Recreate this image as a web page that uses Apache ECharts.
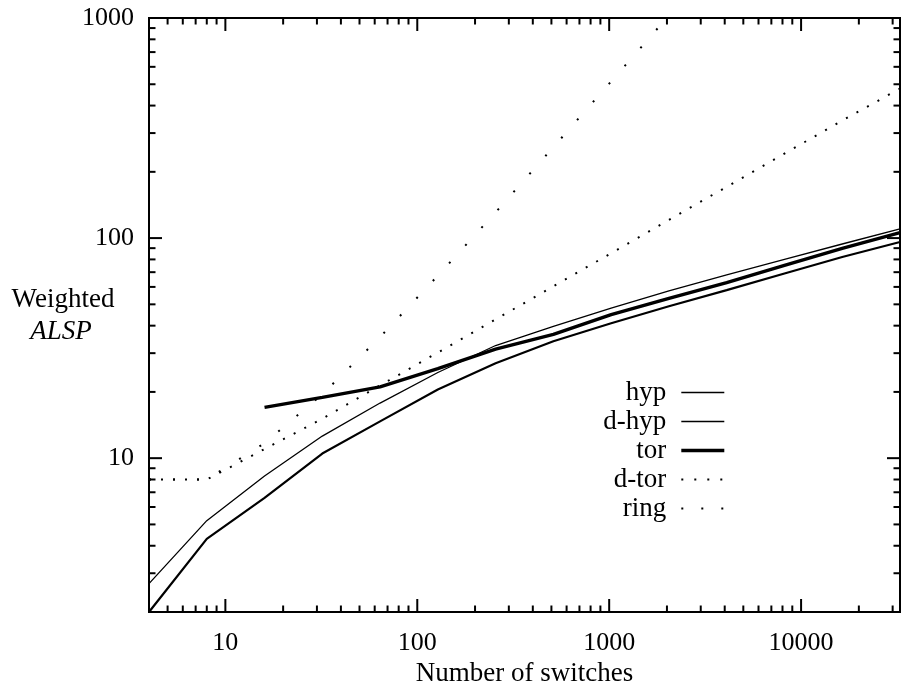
<!DOCTYPE html>
<html><head><meta charset="utf-8">
<script src="https://cdn.jsdelivr.net/npm/echarts@6/dist/echarts.min.js"></script>
<style>html,body{margin:0;padding:0;background:#fff}#c{width:902px;height:690px}</style>
</head><body><div id="c"></div>
<script>
// ---- data (log-log plot) ----
const switchesAll = [4, 8, 16, 32, 64, 128, 256, 512, 1024, 2048, 4096, 8192, 16384, 32768];
const hypValues   = [2.69, 5.2, 8.3, 12.6, 17.8, 24.5, 32.5, 39.7, 48, 57.5, 68, 80, 94, 110];
const dHypValues  = [2.0, 4.3, 6.6, 10.5, 14.7, 20.5, 27, 34, 41, 49, 58, 69, 82, 96];
const torSwitches = [16, 32, 64, 128, 256, 512, 1024, 2048, 4096, 8192, 16384, 32768];
const torValues   = [17, 18.9, 21.1, 25.5, 31.3, 36.5, 44.9, 53.2, 62.8, 75.1, 89.7, 106];
const dTorValues  = [8, 8, 11, 15.1, 21.4, 30.2, 42.7, 60.4, 85.4, 121, 171, 242, 342, 478];
const ringSwitches = [4, 8, 16, 32, 64, 128, 256, 512, 1024, 2048];
const ringValues  = [8, 8, 11.7, 19.5, 35.5, 67.5, 131, 259, 515, 1027];
const xTickLabels = [10, 100, 1000, 10000];
const yTickLabels = [10, 100, 1000];
const seriesNames = ['hyp', 'd-hyp', 'tor', 'd-tor', 'ring'];
const yTitleLines = ['Weighted', 'ALSP'];

const FONT = 'Liberation Serif';
const FS = 27;
const FS_TICK = 26;
const xMin = 4, xMax = 32768, yMin = 2, yMax = 1000;

function pairs(xs, ys) { return xs.map((x, i) => [x, ys[i]]); }

const chart = echarts.init(document.getElementById('c'), null, {renderer: 'canvas'});
const option = {
  animation: false,
  backgroundColor: '#fff',
  grid: {left: 149, right: 2, top: 18, bottom: 78, show: true, borderColor: '#000', borderWidth: 2,
         containLabel: false, outerBoundsMode: 'none'},
  xAxis: {
    type: 'log', logBase: 10, min: xMin, max: xMax,
    axisLine: {show: true, lineStyle: {color: '#000', width: 2}},
    axisTick: {show: false},
    splitLine: {show: false},
    axisLabel: {
      showMinLabel: false, showMaxLabel: false, margin: 18,
      color: '#000', fontFamily: FONT, fontSize: FS_TICK,
      formatter: v => { const r = Math.round(v); return xTickLabels.indexOf(r) >= 0 ? String(r) : ''; }
    },
    name: 'Number of switches', nameLocation: 'middle', nameGap: 41,
    nameTextStyle: {color: '#000', fontFamily: FONT, fontSize: FS}
  },
  yAxis: {
    type: 'log', logBase: 10, min: yMin, max: yMax,
    axisLine: {show: true, lineStyle: {color: '#000', width: 2}},
    axisTick: {show: false},
    splitLine: {show: false},
    axisLabel: {
      showMinLabel: false, margin: 15,
      color: '#000', fontFamily: FONT, fontSize: FS_TICK,
      formatter: v => { const r = Math.round(v); return yTickLabels.indexOf(r) >= 0 ? String(r) : ''; }
    }
  },
  legend: {
    orient: 'vertical', align: 'right', right: 171, top: 373,
    itemWidth: 43, itemHeight: 2, itemGap: 0,
    textStyle: {color: '#000', fontFamily: FONT, fontSize: FS, lineHeight: 29, padding: [0, 10, 0, 0]},
    itemStyle: {opacity: 0},
    data: [
      {name: 'hyp', lineStyle: {width: 1.5}},
      {name: 'd-hyp', lineStyle: {width: 1.5}},
      {name: 'tor', lineStyle: {width: 3.4}},
      {name: 'd-tor', lineStyle: {type: [2, 11]}},
      {name: 'ring', lineStyle: {type: [2, 18]}}
    ]
  },
  series: [
    {name: seriesNames[0], type: 'line', data: pairs(switchesAll, hypValues), showSymbol: false, symbol: 'circle',
     lineStyle: {color: '#000', width: 1.3}, itemStyle: {color: '#000'}},
    {name: seriesNames[1], type: 'line', data: pairs(switchesAll, dHypValues), showSymbol: false, symbol: 'circle',
     lineStyle: {color: '#000', width: 2.2}, itemStyle: {color: '#000'}},
    {name: seriesNames[2], type: 'line', data: pairs(torSwitches, torValues), showSymbol: false, symbol: 'circle',
     lineStyle: {color: '#000', width: 3.4}, itemStyle: {color: '#000'}},
    {name: seriesNames[3], type: 'line', data: pairs(switchesAll, dTorValues), showSymbol: false, symbol: 'circle',
     lineStyle: {color: '#000', width: 2, type: [2, 10], cap: 'butt'}, itemStyle: {color: '#000'}},
    {name: seriesNames[4], type: 'line', data: pairs(ringSwitches, ringValues), showSymbol: false, symbol: 'circle',
     lineStyle: {color: '#000', width: 2, type: [2, 22], cap: 'butt'}, itemStyle: {color: '#000'}}
  ]
};
chart.setOption(option);

// gnuplot-style ticks (major + minor) on all four sides, positioned by the chart's own scales,
// plus the horizontal two-line y-axis title to the left of the plot
function buildGraphics() {
  const els = [];
  const px = v => chart.convertToPixel({xAxisIndex: 0}, v);
  const py = v => chart.convertToPixel({yAxisIndex: 0}, v);
  const left = px(xMin), right = px(xMax), top = py(yMax), bottom = py(yMin);
  const tick = (x1, y1, x2, y2) => els.push({type: 'line', silent: true, z: 10,
    shape: {x1, y1, x2, y2}, style: {stroke: '#000', lineWidth: 2}});
  const MAJ = 13, MIN = 6.5;
  for (let d = 1; d <= 10000; d *= 10) {
    for (let m = 1; m <= 9; m++) {
      const v = m * d;
      if (v <= xMin || v >= xMax) continue;
      const x = px(v), L = m === 1 ? MAJ : MIN;
      tick(x, bottom, x, bottom - L);
      tick(x, top, x, top + L);
    }
  }
  for (let d = 1; d <= 100; d *= 10) {
    for (let m = 1; m <= 9; m++) {
      const v = m * d;
      if (v <= yMin || v >= yMax) continue;
      const y = py(v), L = m === 1 ? MAJ : MIN;
      tick(left, y, left + L, y);
      tick(right, y, right - L, y);
    }
  }
  const midY = (top + bottom) / 2;
  els.push({type: 'text', silent: true, x: left - 86, y: midY - 15,
    style: {text: yTitleLines[0], fill: '#000', font: FS + 'px "' + FONT + '"', align: 'center', verticalAlign: 'middle'}});
  els.push({type: 'text', silent: true, x: left - 88, y: midY + 17,
    style: {text: yTitleLines[1], fill: '#000', font: 'italic ' + FS + 'px "' + FONT + '"', align: 'center', verticalAlign: 'middle'}});
  return els;
}
chart.setOption({graphic: buildGraphics()});
</script>
</body></html>
